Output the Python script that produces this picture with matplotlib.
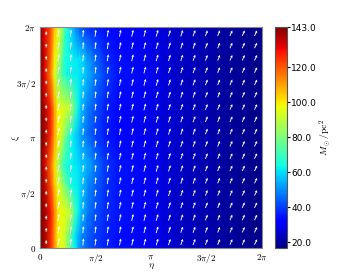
import numpy as np
import matplotlib
matplotlib.use("Agg")
import matplotlib.pyplot as plt

plt.rcParams['mathtext.fontset'] = 'cm'

# surface density table: rows = xi samples, columns = eta samples (both in units of pi)
eta_pts = [0, 0.04, 0.1, 0.13, 0.16, 0.19, 0.22, 0.25, 0.28, 0.31, 0.34, 0.37,
           0.43, 0.49, 0.58, 0.7, 1.0, 1.2, 1.6, 2.0]
xi_pts = [0, 0.1, 0.33, 0.57, 0.75, 1.02, 1.27, 1.57, 1.72, 2.0]
sigma = [
    [143, 140, 126, 112, 102, 96, 92, 84, 72, 64, 56, 50, 44, 40, 37, 34, 29, 25, 21, 18],
    [143, 140, 125, 112, 100, 96, 92, 82, 70, 62, 55, 50, 44, 40, 37, 34, 29, 25, 21, 18],
    [143, 140, 128, 114, 102, 97, 96, 95, 88, 74, 64, 56, 48, 43, 38, 35, 29, 25, 21, 18],
    [143, 137, 120, 106, 96, 90, 80, 72, 64, 63, 62, 58, 50, 45, 39, 35, 29, 25, 21, 18],
    [143, 134, 116, 102, 88, 76, 66, 64, 63, 62, 61, 58, 54, 48, 40, 35, 29, 25, 21, 18],
    [143, 140, 125, 110, 100, 94, 82, 72, 64, 60, 56, 52, 46, 41, 36, 33, 28, 25, 21, 18],
    [143, 138, 126, 110, 98, 96, 95, 94, 88, 76, 64, 56, 48, 43, 37, 33, 28, 25, 21, 18],
    [143, 132, 112, 96, 82, 74, 66, 63, 63, 62, 62, 60, 55, 48, 41, 35, 29, 25, 21, 18],
    [143, 135, 116, 100, 92, 80, 66, 64, 63, 62, 61, 60, 52, 46, 38, 34, 28, 25, 21, 18],
    [143, 132, 120, 106, 96, 90, 72, 64, 58, 52, 46, 42, 38, 36, 34, 32, 28, 25, 21, 18],
]
vmin, vmax = 16.6, 143.0

# arrows: one entry per column of the 18x18 grid (length in px, tilt to the right in deg)
arrow_len = [4, 7.5, 7, 7, 7, 7, 7, 7, 7, 7, 6.5, 6.5, 6.5, 6, 6, 6, 6, 6]
arrow_tilt = [0, 12, 6, 5, 7, 9, 11, 13, 15, 16, 18, 19, 20, 21, 22, 23, 24, 25]

tick_vals = [0, 0.5, 1, 1.5, 2]
tick_labels = [r'$0$', r'$\pi/2$', r'$\pi$', r'$3\pi/2$', r'$2\pi$']
cbar_ticks = [20, 40, 60, 80, 100, 120, 143]

fig = plt.figure(figsize=(3.54, 2.76), dpi=100)
ax = fig.add_axes([0.113, 0.101, 0.627, 0.801])
cax = fig.add_axes([0.777, 0.101, 0.034, 0.801])

E, X = np.meshgrid(np.array(eta_pts) * np.pi, np.array(xi_pts) * np.pi)
mesh = ax.pcolormesh(E, X, np.array(sigma, dtype=float), cmap='jet',
                     vmin=vmin, vmax=vmax, shading='gouraud')

n = len(arrow_len)
centers = (np.arange(n) + 0.5) / n * 2 * np.pi
QE, QX = np.meshgrid(centers, centers)
t = np.radians(arrow_tilt)
U = np.tile(np.array(arrow_len) * np.sin(t), (n, 1))
V = np.tile(np.array(arrow_len) * np.cos(t), (n, 1))
ax.quiver(QE, QX, U, V, color='white', pivot='middle', angles='uv',
          scale_units='inches', scale=100, width=0.004, headwidth=3.2,
          headlength=3, headaxislength=2.6)

ax.set_xlim(0, 2 * np.pi)
ax.set_ylim(0, 2 * np.pi)
ax.set_xticks(np.array(tick_vals) * np.pi)
ax.set_xticklabels(tick_labels)
ax.set_yticks(np.array(tick_vals) * np.pi)
ax.set_yticklabels(tick_labels)
ax.tick_params(length=0, labelsize=6.5, pad=3)
ax.set_xlabel(r'$\eta$', fontsize=7)
ax.set_ylabel(r'$\xi$', fontsize=7)
ax.xaxis.set_label_coords(0.5, -0.06)
ax.yaxis.set_label_coords(-0.08, 0.5)
for s in ax.spines.values():
    s.set_color('#888888')

cb = fig.colorbar(mesh, cax=cax, ticks=cbar_ticks, format='%.1f')
cb.ax.tick_params(labelsize=6.5, length=2, pad=1)
cb.outline.set_edgecolor('#555555')
cb.set_label(r'$M_\odot/\mathrm{pc}^2$', fontsize=7)
cb.ax.yaxis.set_label_coords(3.5, 0.5)

fig.savefig('out.png', dpi=100)
